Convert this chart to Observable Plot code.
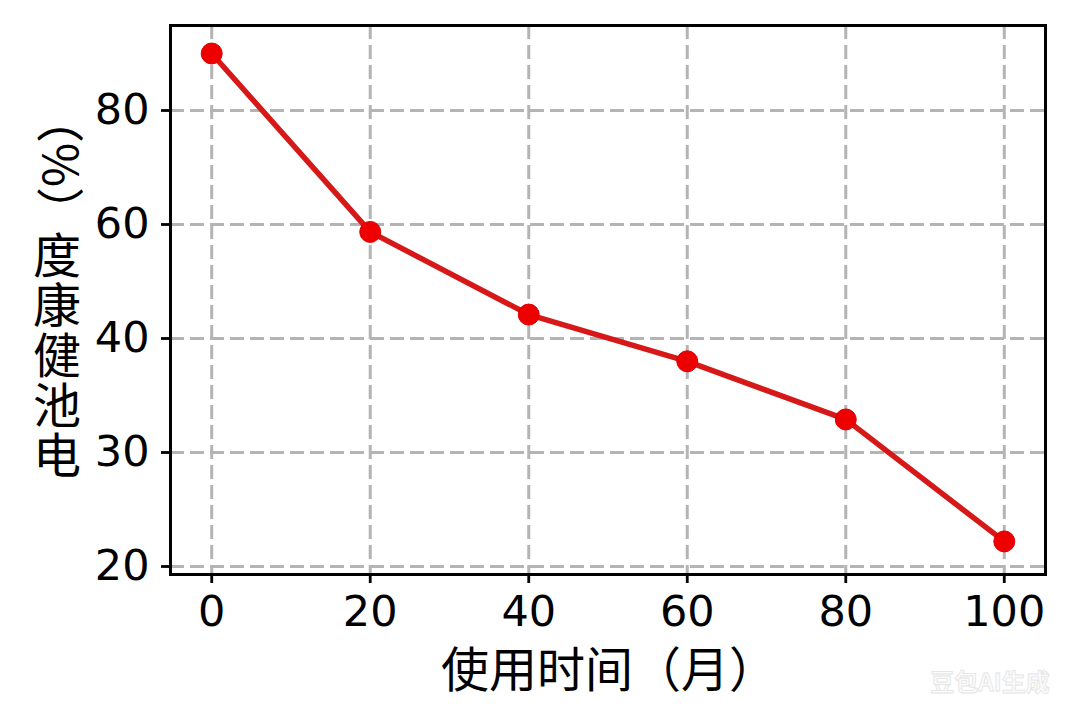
<!DOCTYPE html>
<html>
<head>
<meta charset="utf-8">
<script src="https://cdn.jsdelivr.net/npm/d3@7"></script>
<script src="https://cdn.jsdelivr.net/npm/@observablehq/plot@0.6"></script>
<style>
  html, body { margin: 0; padding: 0; background: #fff; }
  #wrap { position: relative; width: 1080px; height: 720px; }
  .cjk { font-family: 'Noto Sans CJK SC', 'Noto Sans', sans-serif; font-size: 48px; color: #000; }
  #ylab { position: absolute; left: 33px; top: 230px; width: 48px; display: flex; flex-direction: column-reverse; }
  #ylab span { display: block; writing-mode: vertical-rl; text-orientation: upright; width: 48px; height: 50px; line-height: 48px; text-align: center; }
  #yunit { position: absolute; left: 57px; top: 165px; line-height: 50px; white-space: nowrap; transform: translate(-50%, -50%) rotate(-90deg); }
  #xlab { position: absolute; left: 609px; top: 645px; height: 50px; line-height: 50px; white-space: nowrap; transform: translateX(-50%);
          font-family: 'DejaVu Sans', 'Noto Sans CJK SC', sans-serif; }
</style>
</head>
<body>
<div id="wrap">
  <div id="chart"></div>
  <div id="ylab" class="cjk"></div>
  <div id="yunit" class="cjk"></div>
  <div id="xlab" class="cjk"></div>
</div>
<script>
// ---- data ----
const months = [0, 20, 40, 60, 80, 100];
const health = [90, 58.7, 44.2, 38, 32.9, 22.2];
const xTicks = [0, 20, 40, 60, 80, 100];
const yTicks = [20, 30, 40, 60, 80];
const xLabel = "使用时间（月）";
const yLabelChars = ["电", "池", "健", "康", "度"];
const yLabelUnit = "（%）";
const watermark = "豆包AI生成";

const data = months.map((m, i) => ({month: m, health: health[i]}));

const gridStyle = {stroke: "#b4b4b4", strokeOpacity: 1, strokeWidth: 3, strokeDasharray: "14,6"};

const chart = Plot.plot({
  width: 1080,
  height: 720,
  marginLeft: 170,
  marginRight: 35,
  marginTop: 25,
  marginBottom: 146,
  style: {fontFamily: "'DejaVu Sans', sans-serif", background: "#fff", color: "#000", overflow: "visible"},
  x: {type: "linear", domain: [-5.2, 105.2], label: null},
  // piecewise y scale: the reference spaces 20, 30, 40, 60, 80 evenly
  y: {type: "linear", domain: yTicks, insetTop: 85, insetBottom: 8, label: null},
  marks: [
    Plot.gridX(xTicks, gridStyle),
    Plot.gridY(yTicks, gridStyle),
    Plot.line(data, {x: "month", y: "health", stroke: "#d61818", strokeWidth: 5.5}),
    Plot.dot(data, {x: "month", y: "health", r: 10.5, fill: "#ee0000", stroke: "#dc0000", strokeWidth: 1}),
    Plot.frame({stroke: "#000", strokeWidth: 3}),
    Plot.axisX(xTicks, {tickSize: 9, tickPadding: 12, fontSize: 43, strokeWidth: 2.8, label: null, tickFormat: d => String(d)}),
    Plot.axisY(yTicks, {tickSize: 9, tickPadding: 12, fontSize: 43, strokeWidth: 2.8, label: null, tickFormat: d => String(d)})
  ]
});

document.getElementById("chart").appendChild(chart);

// ---- axis titles (as text) ----
const svg = d3.select(chart);
const cjk = "'Noto Sans CJK SC', 'Noto Sans', sans-serif";

d3.select("#xlab").text(xLabel);

// y title: upright characters stacked bottom-to-top, unit rotated
const ylab = d3.select("#ylab");
yLabelChars.forEach(c => ylab.append("span").text(c));
d3.select("#yunit").text(yLabelUnit);

svg.append("text")
  .attr("x", 990).attr("y", 683)
  .attr("dy", "0.35em")
  .attr("text-anchor", "middle")
  .style("font-family", cjk)
  .style("font-size", "24px")
  .style("font-weight", "bold")
  .attr("fill", "#fbfbfb")
  .attr("stroke", "#e4e4e4")
  .attr("stroke-width", 0.8)
  .text(watermark);
</script>
</body>
</html>
